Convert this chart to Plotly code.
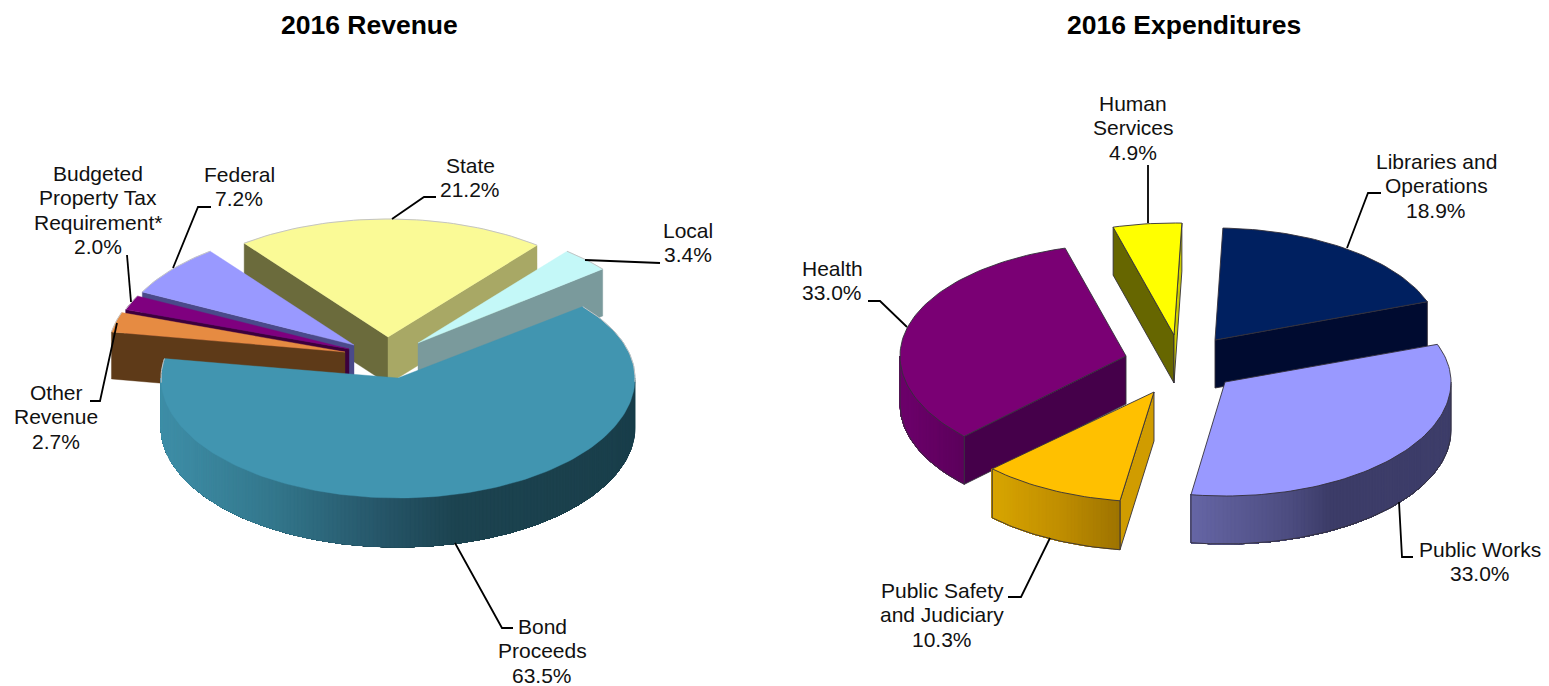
import math
import plotly.graph_objects as go

# ---------- data ----------
revenue_names = ["Bond Proceeds", "Other Revenue", "Budgeted Property Tax Requirement*", "Federal", "State", "Local"]
revenue_values = [63.5, 2.7, 2.0, 7.2, 21.2, 3.4]
expenditure_names = ["Libraries and Operations", "Public Works", "Public Safety and Judiciary", "Health", "Human Services"]
expenditure_values = [18.9, 33.0, 10.3, 33.0, 4.9]

# ---------- text placement: name lines per slice, centre x, first-line y ----------
revenue_text = {
    "Bond Proceeds": (["Bond", "Proceeds"], 542, 626),
    "Other Revenue": (["Other", "Revenue"], 56, 392),
    "Budgeted Property Tax Requirement*": (["Budgeted", "Property Tax", "Requirement*"], 98, 173),
    "Federal": (["Federal"], 239, 174),
    "State": (["State"], 470, 165),
    "Local": (["Local"], 688, 230),
}
expenditure_text = {
    "Libraries and Operations": (["Libraries and", "Operations"], 1436, 161),
    "Public Works": (["Public Works"], 1480, 549),
    "Public Safety and Judiciary": (["Public Safety", "and Judiciary"], 942, 590),
    "Health": (["Health"], 832, 268),
    "Human Services": (["Human", "Services"], 1133, 103),
}
LINE_STEP = 24.5

# ---------- pie drawing parameters (pixel space) ----------
rev_rx, rev_ry, rev_depth, rev_start = 237, 118, 47, -38.8
exp_rx, exp_ry, exp_depth, exp_start = 226, 112, 48, -88.0

rev_apex = {"Bond Proceeds": (398, 378), "Other Revenue": (345, 352),
            "Budgeted Property Tax Requirement*": (349, 349), "Federal": (354, 345),
            "State": (388, 337), "Local": (418, 343)}
exp_apex = {"Libraries and Operations": (1215, 340), "Public Works": (1225, 382),
            "Public Safety and Judiciary": (1154, 392), "Health": (1126, 356),
            "Human Services": (1174, 335)}

# vertical radius overrides (back half, front half) and wall depth overrides: near slices read larger
rev_ry_over = {"Bond Proceeds": (114, 120)}
rev_depth_over = {"Bond Proceeds": 49}
exp_ry_over = {"Public Works": (110, 114), "Health": (112, 115), "Public Safety and Judiciary": (110, 110)}
exp_depth_over = {"Public Safety and Judiciary": 49}

rev_top = {"Bond Proceeds": "#4195B0", "Other Revenue": "#E68B42",
           "Budgeted Property Tax Requirement*": "#7F007F", "Federal": "#9999FF",
           "State": "#FAFA96", "Local": "#C4F8F8"}
# (start-side face, end-side face)
rev_face = {"Bond Proceeds": ("#1A3F4B", "#1A3F4B"), "Other Revenue": ("#5E3A18", "#5E3A18"),
            "Budgeted Property Tax Requirement*": ("#3C003C", "#3C003C"), "Federal": ("#4A4A8A", "#4A4A8A"),
            "State": ("#6B6B3C", "#A8A865"), "Local": ("#7A9A9C", "#7A9A9C")}
rev_wall = {"Bond Proceeds": [(160, "#3F8FA8"), (273, "#33778C"), (373, "#27586B"), (457, "#1C4350"), (634, "#1A3F4B")]}
rev_order = ["State", "Local", "Federal", "Budgeted Property Tax Requirement*", "Other Revenue", "Bond Proceeds"]

exp_top = {"Libraries and Operations": "#002060", "Public Works": "#9999FF",
           "Public Safety and Judiciary": "#FFC000", "Health": "#7A0074", "Human Services": "#FFFF00"}
exp_face = {"Libraries and Operations": ("#000B30", "#000B30"), "Public Works": ("#3C3C68", "#3C3C68"),
            "Public Safety and Judiciary": ("#D09C00", "#D09C00"), "Health": ("#45004A", "#45004A"),
            "Human Services": ("#666600", "#CCCC00")}
exp_wall = {"Public Works": [(1191, "#6565A5"), (1290, "#4C4C80"), (1330, "#3C3C68"), (1451, "#3E3E6A")],
            "Public Safety and Judiciary": [(992, "#D8A500"), (1060, "#C08E00"), (1122, "#9C7200")],
            "Health": [(900, "#6E006C"), (962, "#5C005C")]}
exp_order = ["Libraries and Operations", "Human Services", "Health", "Public Safety and Judiciary", "Public Works"]

rev_leaders = {
    "State": [(392, 219), (424, 197), (436, 197)],
    "Local": [(585, 260), (660, 263)],
    "Federal": [(173, 268), (198, 207), (211, 207)],
    "Budgeted": [(131, 302), (127, 255)],
    "Other": [(117, 323), (100, 401), (90, 401)],
    "Bond": [(455, 543), (502, 628), (513, 628)],
}
exp_leaders = {
    "Human": [(1148, 223), (1148, 165)],
    "Libraries": [(1347, 248), (1368, 193), (1381, 193)],
    "Health": [(907, 327), (880, 301), (868, 301)],
    "Safety": [(1050, 538), (1021, 597), (1008, 597)],
    "Works": [(1399, 502), (1402, 557), (1413, 557)],
}


def hex_rgb(h):
    return tuple(int(h[i:i + 2], 16) for i in (1, 3, 5))


def ramp(stops, x):
    if x <= stops[0][0]:
        return stops[0][1]
    for (x0, c0), (x1, c1) in zip(stops, stops[1:]):
        if x <= x1:
            t = (x - x0) / (x1 - x0)
            a, b = hex_rgb(c0), hex_rgb(c1)
            return "rgb(%d,%d,%d)" % tuple(round(p + (q - p) * t) for p, q in zip(a, b))
    return stops[-1][1]


fig = go.Figure()


def poly(xs, ys, fill, line=None, width=0):
    fig.add_trace(go.Scatter(
        x=xs, y=ys, mode="lines", fill="toself", fillcolor=fill,
        line=dict(color=line or fill, width=width if line else 0.4),
        hoverinfo="skip", showlegend=False))


def stroke(xs, ys, color, width):
    fig.add_trace(go.Scatter(x=xs, y=ys, mode="lines", line=dict(color=color, width=width),
                             hoverinfo="skip", showlegend=False))


def draw_pie(names, values, start, rx, ry, depth, apex, top, face, wall, order, edge, edge_w, all_edges,
             ry_over, depth_over):
    total = sum(values)
    spans = {}
    a = start
    for n, v in zip(names, values):
        spans[n] = (a, a + v / total * 360)
        a += v / total * 360
    for n in order:
        a0, a1 = spans[n]
        cx, cy = apex[n]
        back_r, front_r = ry_over.get(n, (ry, ry))
        dz = depth_over.get(n, depth)

        def pt(d):
            s = math.sin(math.radians(d))
            return (cx + rx * math.cos(math.radians(d)), cy + (front_r if s > 0 else back_r) * s)

        steps = max(4, int((a1 - a0) / 1.5))
        arc = [a0 + (a1 - a0) * i / steps for i in range(steps + 1)]
        fw = edge if all_edges else None
        # cut faces that look toward the viewer
        if math.sin(math.radians(a0 - 90)) > 0:
            x, y = pt(a0)
            poly([cx, x, x, cx, cx], [cy, y, y + dz, cy + dz, cy], face[n][0], fw, edge_w)
        # curved wall: only the front half of the rim is visible
        lo = None
        for k in (0, 360, -360):
            l, h = max(a0, k), min(a1, k + 180)
            if h > l:
                lo, hi = l, h
        if lo is not None:
            wsteps = max(3, int((hi - lo) / 1.0))
            ws = [lo + (hi - lo) * i / wsteps for i in range(wsteps + 1)]
            # each layer spans the rest of the wall, so neighbouring colours leave no seams
            for i in range(wsteps):
                rest = [pt(d) for d in ws[i:]]
                mid = (pt(ws[i])[0] + pt(ws[i + 1])[0]) / 2
                col = ramp(wall.get(n, [(0, face[n][0])]), mid)
                xs = [p[0] for p in rest] + [p[0] for p in reversed(rest)] + [rest[0][0]]
                ys = [p[1] for p in rest] + [p[1] + dz for p in reversed(rest)] + [rest[0][1]]
                poly(xs, ys, col)
            if all_edges:
                pts = [pt(d) for d in ws]
                stroke([p[0] for p in pts], [p[1] + dz for p in pts], edge, edge_w)
                for d in (lo, hi):
                    p = pt(d)
                    stroke([p[0], p[0]], [p[1], p[1] + dz], edge, edge_w)
        if math.sin(math.radians(a1 + 90)) > 0:
            x, y = pt(a1)
            poly([cx, x, x, cx, cx], [cy, y, y + dz, cy + dz, cy], face[n][1], fw, edge_w)
        # top surface
        pts = [(cx, cy)] + [pt(d) for d in arc] + [(cx, cy)]
        poly([p[0] for p in pts], [p[1] for p in pts], top[n], fw, edge_w)
        if not all_edges:
            xs, ys = [], []
            for d in arc:
                if math.sin(math.radians(d)) < 0.05:
                    p = pt(d)
                    xs.append(p[0])
                    ys.append(p[1])
                else:
                    xs.append(None)
                    ys.append(None)
            stroke(xs, ys, edge, edge_w)


draw_pie(revenue_names, revenue_values, rev_start, rev_rx, rev_ry, rev_depth, rev_apex,
         rev_top, rev_face, rev_wall, rev_order, "#C4C4C4", 1, False, rev_ry_over, rev_depth_over)
draw_pie(expenditure_names, expenditure_values, exp_start, exp_rx, exp_ry, exp_depth, exp_apex,
         exp_top, exp_face, exp_wall, exp_order, "#33303A", 0.9, True, exp_ry_over, exp_depth_over)

for leaders in (rev_leaders, exp_leaders):
    for pts in leaders.values():
        stroke([p[0] for p in pts], [p[1] for p in pts], "#000000", 1.8)

FONT = "Liberation Sans, Arial, sans-serif"


def put(text, x, y, size=21, color="#111111"):
    fig.add_annotation(x=x, y=y, xref="x", yref="y", text=text, showarrow=False,
                       xanchor="center", yanchor="middle", font=dict(family=FONT, size=size, color=color))


for names, values, table in ((revenue_names, revenue_values, revenue_text),
                             (expenditure_names, expenditure_values, expenditure_text)):
    for n, v in zip(names, values):
        lines, x, y = table[n]
        for i, t in enumerate(lines + [f"{v:.1f}%"]):
            put(t, x, y + i * LINE_STEP)

put("<b>2016 Revenue</b>", 369, 25, size=26.5, color="#000000")
put("<b>2016 Expenditures</b>", 1184, 25, size=26.5, color="#000000")

fig.update_layout(
    width=1549, height=686, margin=dict(l=0, r=0, t=0, b=0),
    paper_bgcolor="#FFFFFF", plot_bgcolor="#FFFFFF", showlegend=False,
    xaxis=dict(range=[0, 1549], visible=False, fixedrange=True),
    yaxis=dict(range=[686, 0], visible=False, fixedrange=True),
)
fig.write_html("out.html", config={"displayModeBar": False},
               post_script="document.body.style.margin='0';document.body.style.overflow='hidden';")
